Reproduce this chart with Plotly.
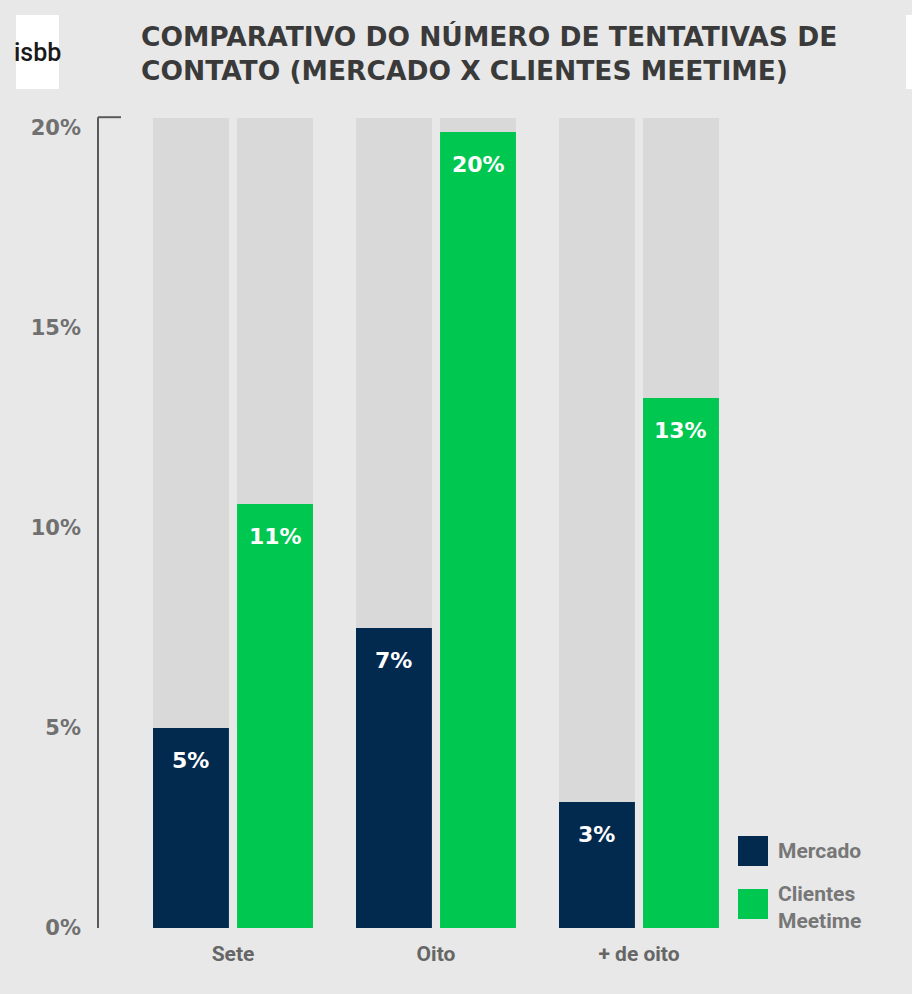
import plotly.graph_objects as go

categories = ["Sete", "Oito", "+ de oito"]
mercado = [5.0, 7.5, 3.15]
clientes = [10.6, 19.9, 13.25]
mercado_labels = ["5%", "7%", "3%"]
clientes_labels = ["11%", "20%", "13%"]
tick_vals = [0, 5, 10, 15, 20]
tick_text = ["0%", "5%", "10%", "15%", "20%"]
bg_max = [20.25, 20.25, 20.25]

NAVY = "#022a4f"
GREEN = "#00c750"
BG = "#e8e8e8"
GREYBAR = "#d9d9d9"

W = 0.374
OFF = 0.207

fig = go.Figure()
for off in (-OFF, OFF):
    fig.add_trace(go.Bar(x=categories, y=bg_max, width=W, offset=off - W / 2,
                         marker=dict(color=GREYBAR, line_width=0),
                         hoverinfo="skip", showlegend=False))
fig.add_trace(go.Bar(x=categories, y=mercado, width=W, offset=-OFF - W / 2,
                     marker=dict(color=NAVY, line_width=0), name="Mercado", showlegend=False))
fig.add_trace(go.Bar(x=categories, y=clientes, width=W, offset=OFF - W / 2,
                     marker=dict(color=GREEN, line_width=0), name="Clientes Meetime", showlegend=False))

LABEL_FONT = dict(family="DejaVu Sans", size=22, color="white", weight="bold")
annotations = []
for i in range(len(categories)):
    annotations.append(dict(x=i - OFF, y=mercado[i], text=mercado_labels[i], showarrow=False,
                            yshift=-32, xref="x", yref="y", font=LABEL_FONT))
    annotations.append(dict(x=i + OFF, y=clientes[i], text=clientes_labels[i], showarrow=False,
                            yshift=-32, xref="x", yref="y", font=LABEL_FONT))


def px(xp):
    return (xp - 98) / 814


def py(yp):
    return (928 - yp) / 818


# Title
annotations.append(dict(text="COMPARATIVO DO NÚMERO DE TENTATIVAS DE<br>CONTATO (MERCADO X CLIENTES MEETIME)",
                        xref="paper", yref="paper", x=px(139), y=py(19),
                        xanchor="left", yanchor="top", align="left", showarrow=False,
                        font=dict(family="DejaVu Sans", size=26.5, color="#3a3a3a", weight="bold")))
# Logo
annotations.append(dict(text="isbb", xref="paper", yref="paper",
                        x=px(37), y=py(53), xanchor="center", yanchor="middle",
                        showarrow=False, font=dict(family="Roboto", size=25, color="#1a1a1a", weight=500)))
# Legend texts
LEG_FONT = dict(family="Roboto", size=21, color="#777", weight="bold")
annotations.append(dict(text="Mercado", xref="paper", yref="paper",
                        x=px(776), y=py(851), xanchor="left", yanchor="middle",
                        showarrow=False, font=LEG_FONT))
annotations.append(dict(text="Clientes<br>Meetime", xref="paper", yref="paper",
                        x=px(776), y=py(907), xanchor="left", yanchor="middle",
                        align="left", showarrow=False, font=LEG_FONT))

shapes = [
    # logo box
    dict(type="rect", xref="paper", yref="paper", x0=px(16), x1=px(59), y0=py(89), y1=py(15),
         fillcolor="white", line_width=0, layer="below"),
    dict(type="rect", xref="paper", yref="paper", x0=px(906), x1=px(914), y0=py(89), y1=py(15),
         fillcolor="white", line_width=0, layer="below"),
    # axis bracket
    dict(type="line", xref="paper", yref="y", x0=0, x1=0, y0=-0.05, y1=20.27,
         line=dict(color="#5a5a5a", width=2)),
    dict(type="line", xref="paper", yref="y", x0=0, x1=px(121), y0=20.27, y1=20.27,
         line=dict(color="#5a5a5a", width=2)),
    dict(type="line", xref="paper", yref="y", x0=0, x1=px(121), y0=-0.05, y1=-0.05,
         line=dict(color="#5a5a5a", width=2)),
    # legend squares
    dict(type="rect", xref="paper", yref="paper", x0=px(738), x1=px(768), y0=py(866), y1=py(836),
         fillcolor=NAVY, line_width=0),
    dict(type="rect", xref="paper", yref="paper", x0=px(738), x1=px(768), y0=py(919), y1=py(889),
         fillcolor=GREEN, line_width=0),
]

fig.update_layout(
    width=912, height=994,
    margin=dict(l=98, r=0, t=110, b=66),
    paper_bgcolor=BG, plot_bgcolor=BG,
    barmode="overlay",
    showlegend=False,
    annotations=annotations,
    shapes=shapes,
    xaxis=dict(range=[-0.665, 3.345], showgrid=False, zeroline=False, showline=False,
               ticks="", ticklabelstandoff=11,
               tickfont=dict(family="Roboto", size=21, color="#666", weight="bold")),
    yaxis=dict(range=[0, 20.45], tickvals=tick_vals, ticktext=tick_text, showgrid=False,
               zeroline=False, showline=False, ticks="", ticklabelstandoff=16,
               tickfont=dict(family="DejaVu Sans", size=21, color="#707070", weight="bold")),
)

fig.write_html("out.html", config={"displayModeBar": False},
               post_script="document.body.style.margin='0';document.body.style.background='#e8e8e8';")
